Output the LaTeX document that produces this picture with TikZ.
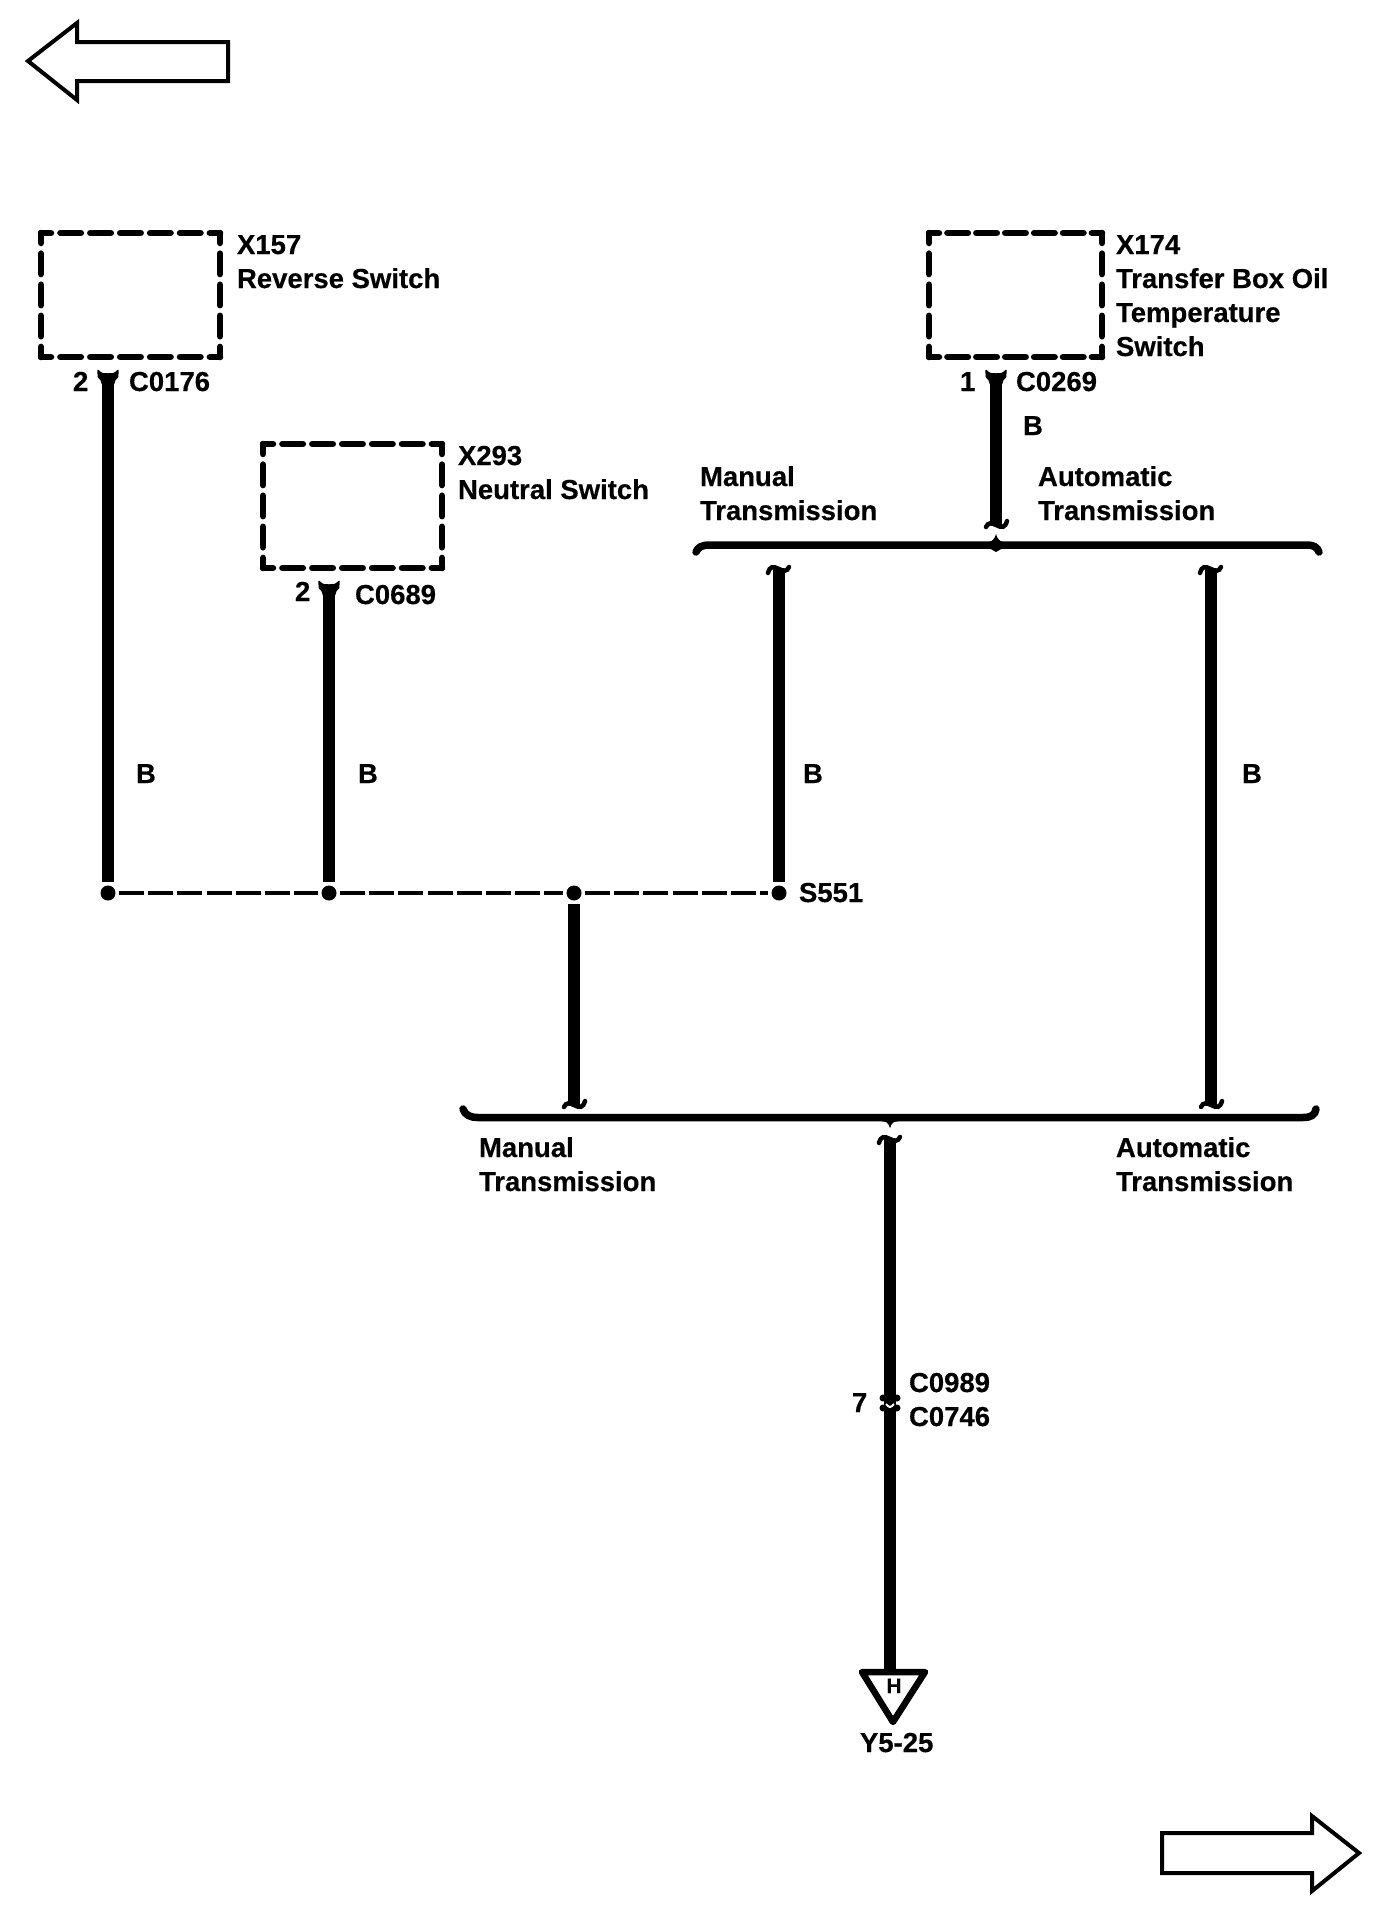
\documentclass[tikz,border=0pt]{standalone}
\usepackage{fontspec}
\setmainfont{Liberation Sans}[BoldFeatures={FakeBold=0.4}]
\tikzset{
  wire/.style={line width=11.5pt,line cap=butt},
  lbl/.style={font=\bfseries\fontsize{27.5}{34}\selectfont,anchor=base west,inner sep=0pt,outer sep=0pt,align=left},
  dot/.style={circle,fill=black,draw=none,minimum size=15pt,inner sep=0pt,outer sep=3.5pt},
  dashwire/.style={line width=3.5pt,dash pattern=on 25pt off 4.2pt},
  outline/.style={line width=4pt,miter limit=10,line join=miter,fill=white},
  brace/.style={line width=7.5pt,line cap=round},
  pics/yflare/.style={code={
    \fill[draw=black,line width=1.5pt,line join=round] (-10,0.5) .. controls (-6,4) .. (0,4) .. controls (6,4) .. (10,0.5)
      -- (9.5,7) .. controls (7,9) .. (5.5,14) -- (-5.5,14) .. controls (-7,9) .. (-9.5,7) -- cycle;}},
  pics/tflare/.style={code={
    \draw[line width=4.5pt,line cap=round] (-11,4) .. controls (-9,-3) and (-6,-3) .. (0,0)
      .. controls (4,2) and (8,3) .. (10,-2);
    \fill (-5.5,-1) -- (5.5,1) -- (5.5,9) -- (-5.5,9) -- cycle;}}
}
\newcommand{\swbox}[7]{%
  \node[inner sep=0pt,outer sep=0pt,minimum width={#4-#2},minimum height={#5-#3}] (#1) at ({(#2+#4)/2},{(#3+#5)/2}) {};
  \foreach \sa/\sb/\sc/\sd in {#2/#3/#4/#3,#2/#5/#4/#5}
    \draw[line width=6.5pt,line cap=round,dash pattern=on 20.5pt off #6pt,dash phase=10.5pt] (\sa,\sb) -- (\sc,\sd);
  \foreach \sa/\sb/\sc/\sd in {#2/#3/#2/#5,#4/#3/#4/#5}
    \draw[line width=6.5pt,line cap=round,dash pattern=on 20.5pt off #7pt,dash phase=10.5pt] (\sa,\sb) -- (\sc,\sd);
}
\begin{document}
\begin{tikzpicture}[x=1pt,y=-1pt]
\useasboundingbox (0,0) rectangle (1392,1906);
% page arrows
\draw[outline] (28,61) -- (77,23) -- (77,42) -- (228,42) -- (228,81) -- (77,81) -- (77,100) -- cycle;
\draw[outline] (1359,1853) -- (1312,1816) -- (1312,1833) -- (1162,1833) -- (1162,1873) -- (1312,1873) -- (1312,1891) -- cycle;
% component boxes
\swbox{xa}{41}{233}{220}{357}{9.4}{10.6}
\swbox{xb}{263}{444}{442}{568}{9.4}{10.6}
\swbox{xc}{929}{233}{1102}{357}{8.4}{10.6}
% splices
\node[dot] (d1) at (108,893) {};
\node[dot] (d2) at (329,893) {};
\node[dot] (d3) at (574,893) {};
\node[dot] (d4) at (779,893) {};
\draw[dashwire] (d1) -- (d2);
\draw[dashwire] (d2) -- (d3);
\draw[dashwire] (d3) -- (d4);
% free ends
\coordinate (ya) at (108,370);
\coordinate (yb) at (329,581);
\coordinate (yc) at (996,370);
\coordinate (tc) at (996,525);
\coordinate (tm) at (779,569);
\coordinate (ta) at (1211,569);
\coordinate (tb) at (574,1105);
\coordinate (tc2) at (1211,1105);
\coordinate (td) at (890,1139);
\coordinate (tri) at (890,1671);
\coordinate (jn) at (890,1403);
% wires
\draw[wire] (ya) ++(0,8) -- (d1.north);
\draw[wire] (yb) ++(0,8) -- (d2.north);
\draw[wire] (yc) ++(0,8) -- (tc);
\draw[wire] (tm) -- (d4.north);
\draw[wire] (ta) -- (tc2);
\draw[wire] (d3.south) -- (tb);
\draw[wire] (td) -- (tri);
% flares
\pic at (ya) {yflare};
\pic at (yb) {yflare};
\pic at (yc) {yflare};
\pic[rotate=180] at (tc) {tflare};
\pic at (tm) {tflare};
\pic at (ta) {tflare};
\pic[rotate=180] at (tb) {tflare};
\pic[rotate=180] at (tc2) {tflare};
\pic at (td) {tflare};
% inline connector
\foreach \dx in {-7,7} \foreach \dy in {-5,5}
  \fill ([xshift=\dx,yshift=\dy]jn) circle (3.5pt);
\draw[white,line width=2pt] ([xshift=-4,yshift=-1]jn) .. controls ([yshift=-5]jn) .. ([xshift=4,yshift=-1]jn);
% braces
\draw[brace] (696,552) .. controls (698,547) and (702,545) .. (710,545) -- (1306,545) .. controls (1314,545) and (1317,547) .. (1319,552);
\fill (989,542) .. controls (993,541) and (995,538) .. (996,534) .. controls (997,538) and (999,541) .. (1003,542) -- (1003,548) -- (996,552) -- (989,548) -- cycle;
\draw[brace] (463,1109) .. controls (465,1115) and (470,1117.5) .. (478,1117.5) -- (1303,1117.5) .. controls (1311,1117.5) and (1315,1115) .. (1316,1109);
\fill (881,1121) -- (886,1122) .. controls (888,1123) and (889,1125) .. (890,1128) .. controls (891,1125) and (892,1123) .. (894,1122) -- (899,1121) -- (899,1115) -- (881,1115) -- cycle;
% offpage triangle
\draw[line width=6.5pt,line join=round,fill=white] (862,1672) -- (925,1672) -- (893,1722) -- cycle;
\draw[wire] (890,1650) -- (890,1672);
% labels
\node[lbl] (l1) at (237,288) {X157\\Reverse Switch};
\node[lbl] (l2) at (73,391) {2};
\node[lbl] (l3) at (129,391) {C0176};
\node[lbl] (l4) at (458,499) {X293\\Neutral Switch};
\node[lbl] (l5) at (295,601) {2};
\node[lbl] (l6) at (355,604) {C0689};
\node[lbl] (l7) at (1116,356) {X174\\Transfer Box Oil\\Temperature\\Switch};
\node[lbl] (l8) at (960,391) {1};
\node[lbl] (l9) at (1016,391) {C0269};
\node[lbl] (l10) at (1023,435) {B};
\node[lbl] (l11) at (700,520) {Manual\\Transmission};
\node[lbl] (l12) at (1038,520) {Automatic\\Transmission};
\node[lbl] (l13) at (136,783) {B};
\node[lbl] (l14) at (358,783) {B};
\node[lbl] (l15) at (803,783) {B};
\node[lbl] (l16) at (1242,783) {B};
\node[lbl] (l17) at (799,902) {S551};
\node[lbl] (l18) at (479,1191) {Manual\\Transmission};
\node[lbl] (l19) at (1116,1191) {Automatic\\Transmission};
\node[lbl] (l20) at (909,1392) {C0989};
\node[lbl] (l21) at (909,1426) {C0746};
\node[lbl] (l22) at (852,1412) {7};
\node[lbl] (l23) at (860,1752) {Y5-25};
\node[lbl,font=\bfseries\fontsize{21}{24}\selectfont,anchor=base] (l24) at (894,1693) {H};
\end{tikzpicture}
\end{document}
